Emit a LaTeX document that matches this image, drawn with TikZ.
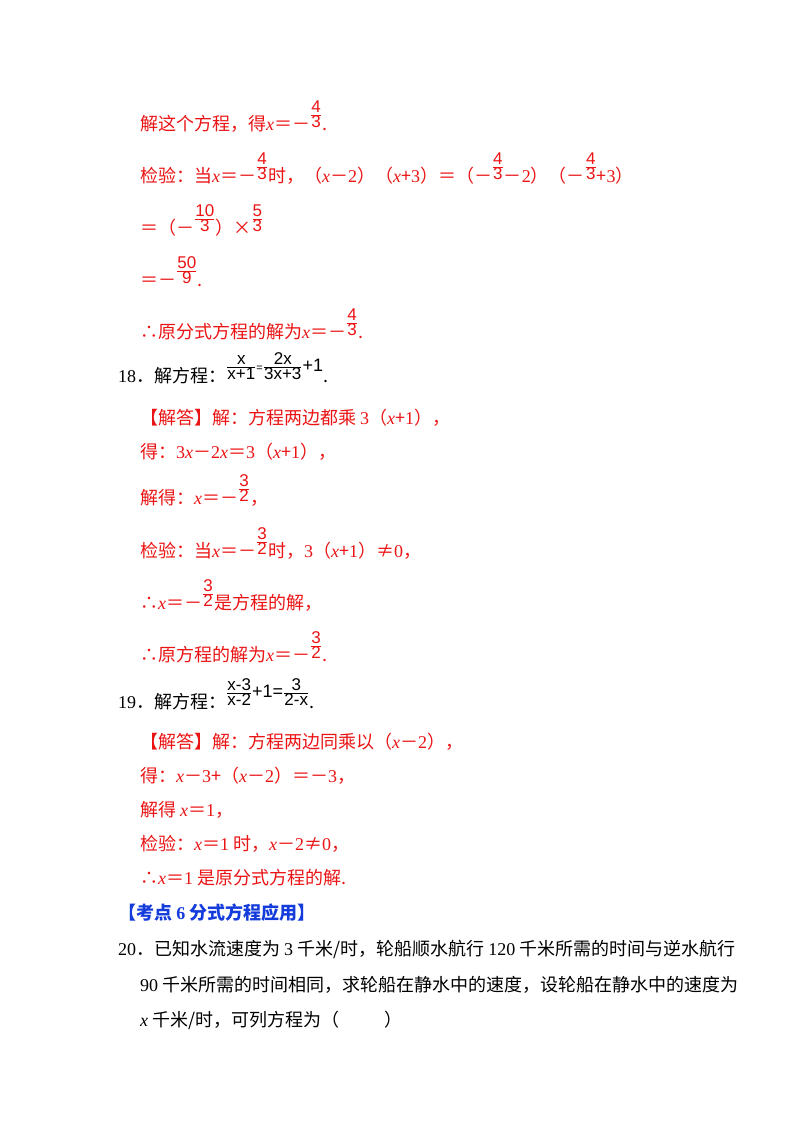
\documentclass[tikz,border=0pt]{standalone}
\usepackage{amsmath}
\usepackage{fontspec}
\setmainfont{Noto Sans CJK SC}
\newfontfamily\tnr{Liberation Serif}
\newfontfamily\ars{Liberation Sans}
\definecolor{rd}{RGB}{235,20,20}
\definecolor{bl}{RGB}{20,60,220}
\newcommand\fr[2]{\raisebox{1.1ex}{\fontsize{17}{17}\selectfont$\genfrac{}{}{0.6pt}{}{\hbox{\ars #1}}{\hbox{\ars #2}}$}}
\newcommand\X{{\tnr\itshape x}}
\newcommand\N[1]{{\tnr #1}}
\begin{document}
\begin{tikzpicture}[x=1pt,y=-1pt,t/.style={anchor=base west,inner sep=0pt,font=\fontsize{18}{20}\selectfont},r/.style={t,text=rd},k/.style={t,text=black}]
\useasboundingbox[fill=white] (0,0) rectangle (800,1132);
\node[r] (l1) at (140,130) {解这个方程，得\X＝－\fr{4}{3}.};
\node[r] (l2) at (140,182) {检验：当\X＝－\fr{4}{3}时，（\X－\N{2}）（\X+\N{3}）＝（－\fr{4}{3}－\N{2}）（－\fr{4}{3}+\N{3}）};
\node[r] (l3) at (140,234) {＝（－\fr{10}{3}）×\fr{5}{3}};
\node[r] (l4) at (140,286) {＝－\fr{50}{9}.};
\node[r] (l5) at (140,338) {∴原分式方程的解为\X＝－\fr{4}{3}.};
\node[k] (q18) at (118,382) {\N{18}．解方程：\fr{x}{x+1}\raisebox{1.1ex}{\fontsize{11}{11}\selectfont\ars =}\fr{2x}{3x+3}\raisebox{1.1ex}{\ars +1}.};
\node[r] (a1) at (140,424) {【解答】解：方程两边都乘 \N{3}（\X+\N{1}），};
\node[r] (a2) at (140,458) {得：\N{3}\X－\N{2}\X＝\N{3}（\X+\N{1}），};
\node[r] (a3) at (140,504) {解得：\X＝－\fr{3}{2}，};
\node[r] (a4) at (140,557) {检验：当\X＝－\fr{3}{2}时，\N{3}（\X+\N{1}）≠\N{0}，};
\node[r] (a5) at (140,609) {∴\X＝－\fr{3}{2}是方程的解，};
\node[r] (a6) at (140,661) {∴原方程的解为\X＝－\fr{3}{2}.};
\node[k] (q19) at (118,708) {\N{19}．解方程：\fr{x-3}{x-2}\raisebox{1.1ex}{\ars +1=}\fr{3}{2-x}.};
\node[r] (b1) at (140,748) {【解答】解：方程两边同乘以（\X－\N{2}），};
\node[r] (b2) at (140,782) {得：\X－\N{3}+（\X－\N{2}）＝－\N{3}，};
\node[r] (b3) at (140,816) {解得 \X＝\N{1}，};
\node[r] (b4) at (140,850) {检验：\X＝\N{1} 时，\X－\N{2}≠\N{0}，};
\node[r] (b5) at (140,884) {∴\X＝\N{1} 是原分式方程的解.};
\node[t,text=bl,font=\fontsize{18}{20}\selectfont\bfseries] (h) at (118,919) {【考点 \N{6}\ 分式方程应用】};
\node[k] (p1) at (118,955) {\N{20}．已知水流速度为 \N{3} 千米/时，轮船顺水航行 \N{120} 千米所需的时间与逆水航行};
\node[k] (p2) at (140,991) {\N{90} 千米所需的时间相同，求轮船在静水中的速度，设轮船在静水中的速度为};
\node[k] (p3) at (140,1026) {\X\ 千米/时，可列方程为（\hspace{2.5em}）};
\end{tikzpicture}
\end{document}
